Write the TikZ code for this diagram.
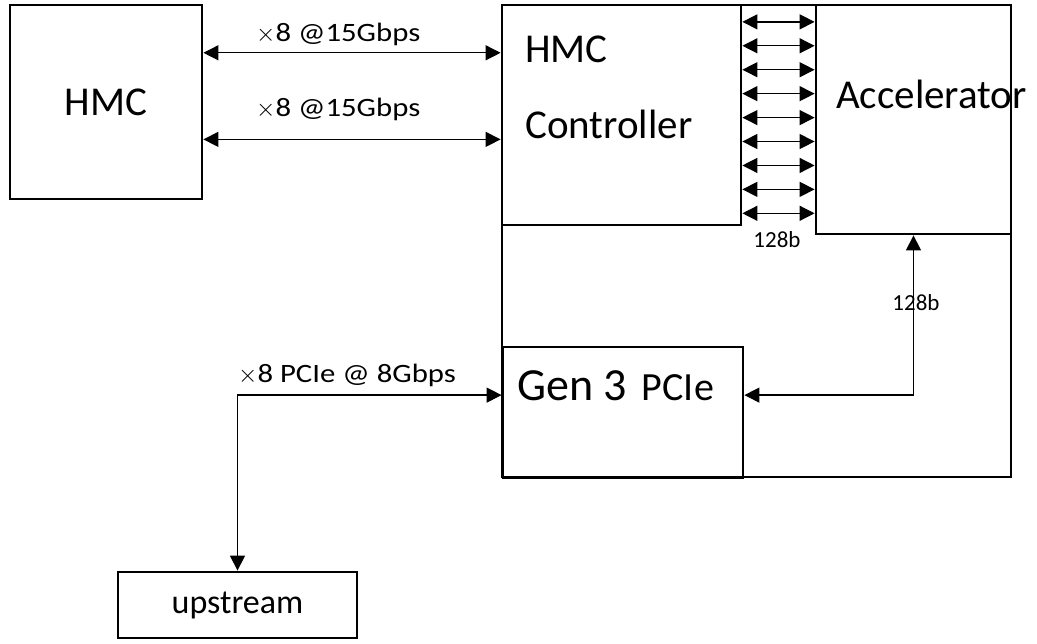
\documentclass[tikz,border=0pt]{standalone}
\usepackage{fontspec}
\setmainfont{Carlito}
\newfontfamily\widefont[FakeStretch=1.16]{Carlito}
\usetikzlibrary{arrows.meta,calc}

\newcommand{\setfs}[1]{\fontsize{#1}{#1}\selectfont}

\begin{document}
\begin{tikzpicture}[
    x=1pt, y=-1pt,
    every node/.style={inner sep=0pt},
    box/.style={rectangle, draw=black, line width=2.8pt},
    biarr/.style={{Triangle[length=15pt,width=15pt]}-{Triangle[length=15pt,width=15pt]}, line width=1.3pt},
    lbl/.style={anchor=base west, font=\widefont\setfs{26.5}},
    wlbl/.style={font=\setfs{23}}
]
\useasboundingbox (0,0) rectangle (1037,644);
% blocks
\node[box, minimum width=509pt, minimum height=472pt] (fpga) at (756.5,241) {};
\node[box, minimum width=192pt, minimum height=194pt, font=\setfs{41}] (hmc) at (106,102) {HMC};
\node[box, minimum width=239pt, minimum height=220pt] (ctrl) at (621.5,115) {};
\node[box, minimum width=195pt, minimum height=229pt] (acc) at (913.5,119.5) {};
\node[box, minimum width=240pt, minimum height=131pt] (gen3) at (623,412.5) {};
\node[box, minimum width=239pt, minimum height=66pt, font=\setfs{34}] (up) at (237.5,605) {upstream};
% block texts
\node[anchor=west, align=left, font=\fontsize{41}{76}\selectfont] (ctrltxt) at (525,87) {HMC\\Controller};
\node[anchor=base west, font=\setfs{41}] (acctxt) at (836,109) {Accelerator};
\node[anchor=base west] (gentxt) at (517,401) {{\setfs{46}Gen 3}\hspace{15pt}{\setfs{40}PCIe}};
% HMC links
\draw[biarr] ($(hmc.north east)!.25!(hmc.south east)$) coordinate (h1) -- (h1 -| ctrl.west);
\draw[biarr] ($(hmc.north east)!.69!(hmc.south east)$) coordinate (h2) -- (h2 -| ctrl.west);
\node[lbl] (bw1) at (256,42) {$\times$8 @15Gbps};
\node[lbl] (bw2) at (256,117) {$\times$8 @15Gbps};
% controller <-> accelerator
\foreach \i [evaluate=\i as \f using 0.082+0.1074*\i] in {0,...,8}
  \draw[biarr] ($(ctrl.north east)!\f!(ctrl.south east)$) coordinate (b\i) -- (b\i -| acc.west);
\node[wlbl] (w1) at (777,240) {128b};
% accelerator <-> PCIe
\coordinate (g1) at ($(gen3.north east)!.37!(gen3.south east)$);
\draw[biarr] (acc.south) |- (g1);
\node[wlbl] (w2) at (916,303) {128b};
% PCIe <-> upstream
\coordinate (g2) at ($(gen3.north west)!.37!(gen3.south west)$);
\draw[biarr] (up.north) |- (g2);
\node[lbl] (pcie) at (238,383) {$\times$8 PCIe @ 8Gbps};
\end{tikzpicture}
\end{document}
